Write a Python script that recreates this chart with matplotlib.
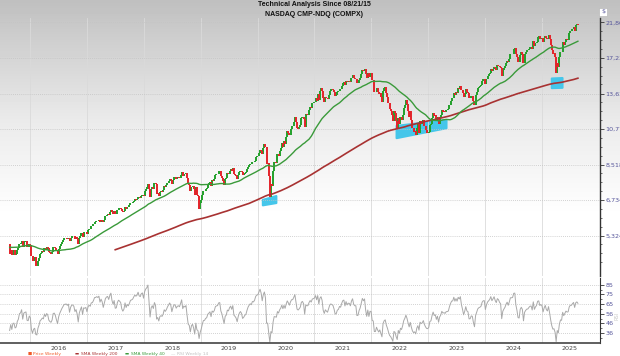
import numpy as np
import pandas as pd
import matplotlib
matplotlib.use("Agg")
import matplotlib.pyplot as plt
import matplotlib.dates as mdates
from matplotlib.patches import Polygon
from matplotlib.ticker import NullFormatter

# Weekly closes (Fridays) of the Nasdaq Composite, starting 2013-09-06.
# The history before 08/21/15 is only there to feed the 200-week SMA.
close_2013 = [3660, 3722, 3774, 3782, 3807, 3791, 3915, 3943, 3922, 3919, 3985, 3991, 4059,
              4062, 4000, 4104, 4156]
close_2014 = [4131, 4174, 4197, 4128, 4104, 4125, 4244, 4263, 4308, 4336,
              4245, 4276, 4155, 4127, 3999, 4095, 4075, 4123, 4071, 4090,
              4185, 4243, 4321, 4310, 4368, 4398, 4485, 4416, 4432, 4449,
              4352, 4371, 4465, 4539, 4580, 4583, 4568, 4580, 4512, 4475,
              4276, 4258, 4483, 4631, 4633, 4688, 4712, 4792, 4781, 4653,
              4765, 4807]
close_2015 = [4727, 4704, 4634, 4758, 4635, 4744, 4893, 4956, 4964, 4928,
              4871, 5026, 4892, 4886, 4996, 4932, 5092, 5005, 5003, 5048,
              5090, 5070, 5068, 5051, 5117, 5080, 4976, 4998, 5210, 5088,
              5128, 5044, 5048, 4706, 4828, 4683, 4822, 4827, 4687, 4707,
              4830, 4886, 5032, 5054, 5147, 4927, 5105, 5128, 5142, 4934,
              4923, 5048]
close_2016 = [5007, 4644, 4488, 4591, 4614, 4363, 4338, 4504, 4590, 4717,
              4748, 4796, 4773, 4915, 4851, 4938, 4906, 4775, 4737, 4718,
              4770, 4933, 4943, 4895, 4800, 4708, 4863, 4957, 5030, 5100,
              5162, 5221, 5233, 5238, 5219, 5250, 5126, 5245, 5306, 5312,
              5292, 5215, 5257, 5190, 5047, 5237, 5322, 5399, 5255, 5445,
              5437, 5462, 5383]
close_2017 = [5521, 5574, 5555, 5661, 5667, 5734, 5838, 5845, 5871, 5861,
              5901, 5829, 5912, 5878, 5805, 5910, 6048, 6101, 6121, 6083,
              6210, 6306, 6208, 6151, 6265, 6140, 6153, 6312, 6388, 6374,
              6352, 6256, 6217, 6265, 6435, 6360, 6448, 6426, 6496, 6590,
              6606, 6629, 6701, 6764, 6751, 6783, 6890, 6848, 6840, 6937,
              6960, 6903]
close_2018 = [7136, 7261, 7336, 7506, 7241, 6874, 7239, 7337, 7258, 7560,
              7482, 6993, 7063, 6915, 7107, 7146, 7120, 7210, 7403, 7354,
              7434, 7554, 7646, 7746, 7692, 7510, 7688, 7826, 7820, 7737,
              7812, 7839, 7816, 7945, 8110, 7903, 8010, 7987, 8046, 7788,
              7497, 7449, 7167, 7357, 7407, 7248, 6939, 7331, 6969, 6911,
              6333, 6585]
close_2019 = [6739, 6971, 7157, 7165, 7264, 7298, 7472, 7528, 7595, 7408,
              7689, 7643, 7729, 7939, 7984, 7998, 8146, 8164, 7917, 7816,
              7637, 7453, 7742, 7797, 8032, 8006, 8162, 8244, 8146, 8330,
              8004, 7959, 7896, 7751, 7963, 8103, 8177, 8118, 7940, 7982,
              8057, 8089, 8243, 8386, 8475, 8541, 8520, 8665, 8656, 8735,
              8925, 9007]
close_2020 = [9020, 9179, 9389, 9315, 9151, 9520, 9731, 9577, 8567, 8576,
              7875, 6880, 7502, 7373, 8154, 8650, 8634, 8605, 9121, 9015,
              9325, 9490, 9815, 9589, 9946, 9757, 10208, 10617, 10503, 10363,
              10745, 11011, 11020, 11312, 11696, 11313, 10854, 10794, 10914, 11076,
              11580, 11672, 11548, 10912, 11895, 11829, 11855, 12206, 12464, 12378,
              12756, 12805]
close_2021 = [12888, 13202, 12998, 13543, 13070, 13856, 14095, 13874, 13192, 12920,
              13320, 13215, 13139, 13480, 13900, 14052, 14016, 13962, 13752, 13430,
              13471, 13749, 13814, 14069, 14030, 14360, 14639, 14701, 14427, 14837,
              14673, 14835, 14823, 14715, 15129, 15363, 15115, 15044, 15048, 14567,
              14580, 14897, 15090, 15498, 15971, 15861, 16057, 15491, 15085, 15630,
              15170, 15653, 15645]
close_2022 = [14936, 14894, 13768, 13771, 14098, 13791, 13548, 13695, 13313, 12844,
              13894, 14169, 14262, 13711, 13351, 12839, 12335, 12145, 11805, 11354,
              12131, 12013, 11340, 10798, 11608, 11128, 11636, 11452, 11834, 12391,
              12657, 13047, 12706, 12142, 11631, 12112, 11448, 10868, 10576, 10652,
              10321, 10859, 11103, 10475, 11323, 11146, 11226, 11462, 11005, 10705,
              10498, 10466]
close_2023 = [10569, 11079, 11140, 11622, 12007, 11718, 11787, 11395, 11689, 11139,
              11631, 11824, 12222, 12088, 12124, 12073, 12227, 12236, 12285, 12658,
              12976, 13241, 13259, 13689, 13492, 13788, 13661, 14114, 14033, 14317,
              13909, 13645, 13291, 13591, 14031, 13762, 13708, 13212, 13219, 13431,
              13407, 12984, 12643, 13478, 13798, 14125, 14251, 14305, 14404, 14814,
              14993, 15011]
close_2024 = [14524, 14973, 15311, 15455, 15629, 15991, 15776, 15997, 16275, 16085,
              15973, 16429, 16379, 16249, 16175, 15282, 15928, 16156, 16341, 16686,
              16921, 16735, 17133, 17689, 17689, 17733, 18353, 18398, 17727, 17358,
              16776, 16745, 17632, 17878, 17714, 16691, 17684, 17948, 18120, 18138,
              18343, 18490, 18519, 18240, 19287, 18680, 19004, 19218, 19860, 19926,
              19573, 19722]
close_2025 = [19622, 19162, 19630, 19954, 19627, 19523, 20027, 19525, 18847, 18196,
              17754, 17784, 17323, 15588, 16724, 16286, 17383, 17978, 17929, 19212,
              18737, 19114, 19530, 19407, 19447, 20273, 20601, 20586, 20896, 21108,
              20650, 21450, 21623, 21496]

closes = (close_2013 + close_2014 + close_2015 + close_2016 + close_2017 + close_2018
          + close_2019 + close_2020 + close_2021 + close_2022 + close_2023 + close_2024
          + close_2025)
first_week = "2013-09-06"
chart_start = "2015-08-21"

price_ticks = [5324, 6734, 8518, 10774, 13620, 17233, 21802]
rsi_ticks = [85, 75.2, 65.4, 55.6, 45.8, 36]
rsi_tick_labels = ["85", "75", "65", "56", "46", "36"]
years = list(range(2016, 2026))

# cyan highlight zones drawn on the chart: (date, price) corners
zone_2020 = [("2020-02-04", 6740), ("2020-05-01", 6916), ("2020-05-01", 6600), ("2020-02-04", 6500)]
zone_2022 = [("2022-06-13", 11000), ("2023-04-30", 11440), ("2023-04-30", 10830), ("2022-06-13", 10140)]
zone_2025 = [("2025-03-07", 15050), ("2025-05-15", 15100), ("2025-05-15", 14150), ("2025-03-07", 14118)]

UP = "#22a02a"
DOWN = "#e4232a"
SMA200_C = "#a83232"
SMA40_C = "#3a9a3a"
RSI_C = "#a9a9a9"
ZONE_C = "#45c6ea"
TICK_C = "#55559a"

W, H = 620, 356

# ---- series -------------------------------------------------------------
dates = pd.date_range(first_week, periods=len(closes), freq="W-FRI")
s = pd.Series(closes, index=dates, dtype=float)
opens = s.shift(1)
sma40 = s.rolling(40).mean()
sma200 = s.rolling(200).mean()
delta = s.diff()
avg_gain = delta.clip(lower=0).ewm(alpha=1 / 14, adjust=False).mean()
avg_loss = (-delta.clip(upper=0)).ewm(alpha=1 / 14, adjust=False).mean()
rsi = 100 - 100 / (1 + avg_gain / avg_loss)

show = s.index >= pd.Timestamp(chart_start)
x = mdates.date2num(s.index[show])
o = opens[show].values
c = s[show].values

# ---- figure -------------------------------------------------------------
fig = plt.figure(figsize=(W / 100, H / 100), dpi=100)

# grey-to-white backdrop
bg = fig.add_axes([0, 0, 1, 1])
bg.set_zorder(-5)
rows = np.arange(H)
shade = np.interp(rows, [0, 40, 120, 215, H], [0.75, 0.81, 0.92, 1.0, 1.0])
bg.imshow(shade[:, None], cmap="gray", vmin=0, vmax=1, aspect="auto",
          extent=[0, 1, 0, 1], origin="upper")
bg.axis("off")


def fy(px):
    return 1 - px / H


left, right = 0.0, 600 / W
ax = fig.add_axes([left, fy(276), right - left, fy(18) - fy(276)])
ax.set_facecolor("none")
rx = fig.add_axes([left, fy(343), right - left, fy(278) - fy(343)])
rx.set_facecolor("white")

xlim = (mdates.date2num(pd.Timestamp("2015-06-20")), mdates.date2num(pd.Timestamp("2026-01-11")))
year_starts = [mdates.date2num(pd.Timestamp(f"{y}-01-01")) for y in years]
year_mids = [mdates.date2num(pd.Timestamp(f"{y}-07-01")) for y in years]

# ---- price panel --------------------------------------------------------
for zone in (zone_2020, zone_2022, zone_2025):
    pts = [(mdates.date2num(pd.Timestamp(d)), p) for d, p in zone]
    ax.add_patch(Polygon(pts, closed=True, facecolor=ZONE_C, edgecolor=ZONE_C,
                         lw=1.5, joinstyle="round", zorder=1))

up = c >= o
ax.vlines(x[up], o[up], c[up], color=UP, lw=1.4, zorder=2)
ax.vlines(x[~up], o[~up], c[~up], color=DOWN, lw=1.4, zorder=2)
ax.plot(x, sma200[show].values, color=SMA200_C, lw=1.2, zorder=3)
ax.plot(x, sma40[show].values, color=SMA40_C, lw=1.0, zorder=3)

ax.set_yscale("log")
ax.yaxis.tick_right()
ax.set_yticks(price_ticks)
ax.set_yticklabels([f"{t:,}" for t in price_ticks])
minor = [price_ticks[0] * 1.2652 ** (k / 4) for k in range(-5, 29) if k % 4]
ax.set_yticks(minor, minor=True)
ax.yaxis.set_minor_formatter(NullFormatter())
ax.set_xticks(year_starts)
ax.set_xticklabels([])
# limits after the ticks, since set_yticks widens the view to fit them
ax.set_ylim(4073, 22460)
ax.set_xlim(*xlim)
ax.tick_params(axis="x", length=0)
ax.tick_params(axis="y", which="major", length=3, width=0.6, labelsize=4.6,
               labelcolor=TICK_C, color="#333333", pad=1)
ax.tick_params(axis="y", which="minor", length=1.6, width=0.5, color="#333333")
ax.grid(axis="y", which="major", ls=(0, (1, 1.5)), color="#c4c4c4", lw=0.6)
ax.grid(axis="x", which="major", ls="-", color="#dadada", lw=0.6)
for side in ("left", "top", "bottom"):
    ax.spines[side].set_visible(False)
ax.spines["right"].set_color("#333333")
ax.spines["right"].set_linewidth(1.0)

# ---- RSI panel ----------------------------------------------------------
rx.plot(x, rsi[show].values, color=RSI_C, lw=0.7)
rx.yaxis.tick_right()
rx.set_yticks(rsi_ticks)
rx.set_yticklabels(rsi_tick_labels)
rx.set_yticks([80.1, 70.3, 60.5, 50.7, 40.9, 31.1], minor=True)
rx.set_xticks(year_starts)
rx.set_xticklabels([])
rx.set_xticks(year_mids, minor=True)
rx.set_xticklabels([str(y) for y in years], minor=True)
rx.set_xlim(*xlim)
rx.set_ylim(25.8, 92)
rx.tick_params(axis="x", which="both", length=0, labelsize=4.6, labelcolor="#444444", pad=2)
rx.tick_params(axis="y", which="major", length=3, width=0.6, labelsize=4.6,
               labelcolor=TICK_C, color="#333333", pad=1)
rx.tick_params(axis="y", which="minor", length=1.6, width=0.5, color="#333333")
rx.grid(axis="y", which="major", ls=(0, (1, 1.5)), color="#c4c4c4", lw=0.6)
rx.grid(axis="x", which="major", ls="-", color="#dadada", lw=0.6)
for side in ("left", "top"):
    rx.spines[side].set_visible(False)
rx.spines["right"].set_color("#333333")
rx.spines["bottom"].set_color("#444444")
rx.spines["bottom"].set_linewidth(1.2)
fig.text(617 / W, fy(316), "RSI", rotation=90, ha="center", va="center",
         fontsize=3.6, color="#c8c8c8")

# ---- titles / labels ----------------------------------------------------
fig.text(314 / W, fy(5), "Technical Analysis Since 08/21/15", ha="center", va="center",
         fontsize=5, fontweight="bold", family="Liberation Sans", color="#111111")
fig.text(314 / W, fy(14), "NASDAQ CMP-NDQ (COMPX)", ha="center", va="center",
         fontsize=5, fontweight="bold", family="Liberation Sans", color="#111111")
fig.text(603 / W, fy(12), "$", ha="center", va="center", fontsize=4.5, color=TICK_C,
         bbox=dict(boxstyle="square,pad=0.25", fc="white", ec="#b0b0b0", lw=0.4))

# legend strip along the bottom edge
legend = [("■", "Price Weekly", "#f05a28", 30, 33),
          ("▬", "SMA Weekly 200", SMA200_C, 77, 81),
          ("▬", "SMA Weekly 40", SMA40_C, 127, 131),
          ("—", "RSI Weekly 14", "#c0c0c0", 173, 177)]
for mark, label, col, mx, tx in legend:
    fig.text(mx / W, fy(354), mark, ha="center", va="center", fontsize=3.2, color=col)
    fig.text(tx / W, fy(354), label, ha="left", va="center", fontsize=3.2, color=col)

fig.savefig("out.png", dpi=100)
